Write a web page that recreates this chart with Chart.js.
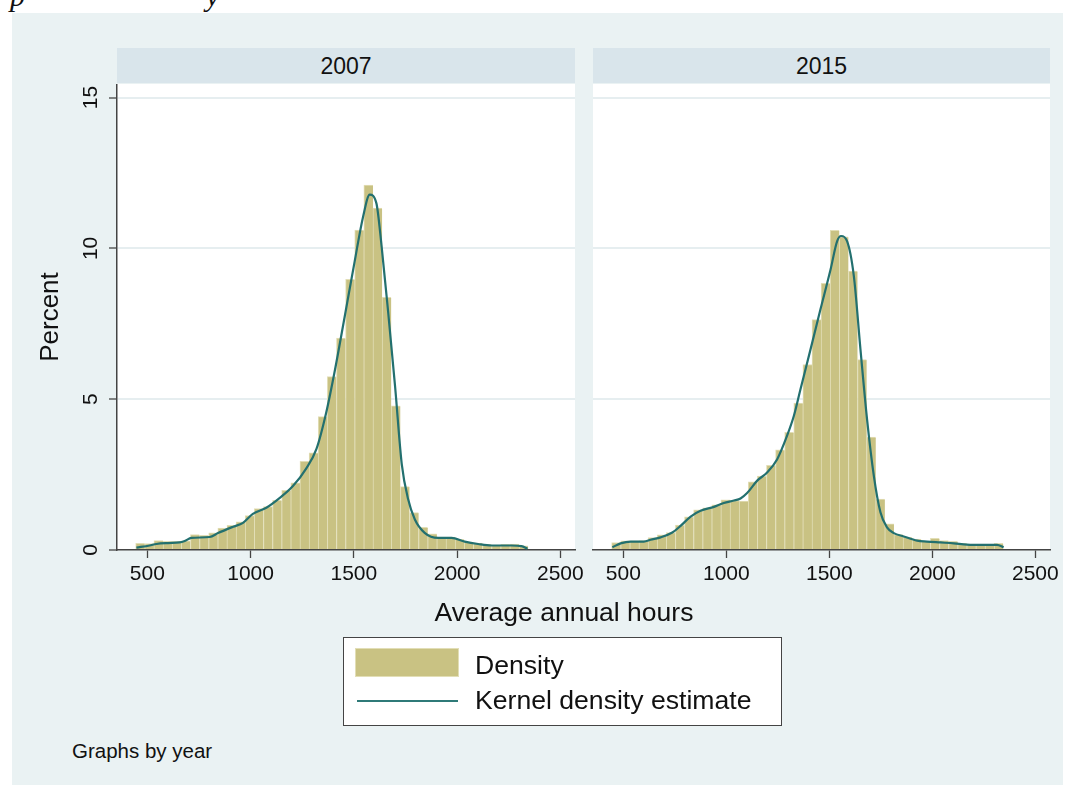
<!DOCTYPE html>
<html>
<head>
<meta charset="utf-8">
<script src="https://cdn.jsdelivr.net/npm/chart.js@4.4.1/dist/chart.umd.min.js"></script>
<style>
  html, body { margin: 0; padding: 0; background: #fff; width: 1076px; height: 787px; overflow: hidden;
               font-family: 'Liberation Sans', Arial, Helvetica, sans-serif; color: #111; }
  .cut { position: absolute; top: -21px; font-family: 'Liberation Serif', serif; font-style: italic; font-size: 30px; line-height: 34px; }
  #frame { position: absolute; left: 12px; top: 13px; width: 1051px; height: 772px; background: #eaf2f3; }
  .strip { position: absolute; top: 48px; height: 35px; background: #d9e5eb; font-size: 23px; line-height: 36px; text-align: center; }
  canvas { position: absolute; }
  #xtitle { position: absolute; left: 364px; width: 400px; top: 597px; text-align: center; font-size: 26.5px; line-height: 30px; }
  #legend { position: absolute; left: 343px; top: 637px; width: 437px; height: 87px; background: #fff; border: 1.5px solid #444; }
  .swatch { position: absolute; left: 11px; top: 10px; width: 102px; height: 27px; background: rgb(201,194,131); border: 1px solid rgb(226,222,182); }
  .lineKey { position: absolute; left: 13px; top: 61.5px; width: 101px; height: 2px; background: #2f7a78; }
  .ltext { position: absolute; left: 131px; font-size: 26.6px; line-height: 30px; white-space: nowrap; }
  #note { position: absolute; left: 72px; top: 739px; font-size: 20.5px; line-height: 24px; }
</style>
</head>
<body>
<div class="cut" style="left:10px">p</div>
<div class="cut" style="left:206px">y</div>
<div id="frame"></div>
<div class="strip" id="strip0" style="left:117px; width:458px;"></div>
<div class="strip" id="strip1" style="left:593px; width:457px;"></div>
<canvas id="panel2007" width="575" height="516" style="left:12px; top:84px;"></canvas>
<canvas id="panel2015" width="476" height="516" style="left:587px; top:84px;"></canvas>
<div id="xtitle">Average annual hours</div>
<div id="legend">
  <div class="swatch"></div>
  <div class="ltext" style="top:12px;">Density</div>
  <div class="lineKey"></div>
  <div class="ltext" style="top:47px;">Kernel density estimate</div>
</div>
<div id="note">Graphs by year</div>

<script>
// Panel labels and axis ticks
const panelTitles = ['2007', '2015'];
const xTickValues = [500, 1000, 1500, 2000, 2500];
const yTickValues = [0, 5, 10, 15];
const xMin = 353, xMax = 2571;
const yMax = 15.45;

// Histogram bins (hours): first bin edge and bin width
const binStart = 443.5;
const binWidth = 44.2;

// Percent of observations in each bin
const pct2007 = [0.22, 0.21, 0.31, 0.29, 0.29, 0.30, 0.51, 0.49, 0.57, 0.73,
                 0.82, 0.93, 1.14, 1.37, 1.44, 1.65, 1.98, 2.23, 2.94, 3.22,
                 4.42, 5.75, 7.03, 8.97, 10.61, 12.10, 11.34, 8.38, 4.78, 2.10,
                 1.24, 0.75, 0.54, 0.43, 0.43, 0.35, 0.26, 0.23, 0.19, 0.16,
                 0.19, 0.20, 0.14];
const pct2015 = [0.25, 0.30, 0.30, 0.31, 0.41, 0.50, 0.58, 0.83, 1.10, 1.33,
                 1.40, 1.50, 1.66, 1.64, 1.62, 2.26, 2.45, 2.81, 3.32, 3.90,
                 4.87, 6.15, 7.64, 8.84, 10.60, 10.38, 9.25, 6.31, 3.74, 1.69,
                 0.87, 0.51, 0.42, 0.36, 0.29, 0.39, 0.31, 0.29, 0.22, 0.20,
                 0.20, 0.20, 0.22];

// Kernel density estimate, scaled to percent per bin
const kdeHours2007 = [447, 511, 544, 600, 656, 681, 713, 802, 842, 915, 963, 1011, 1076, 1140, 1205, 1269,
                      1319, 1366, 1408, 1456, 1504, 1545, 1577, 1609, 1634, 1666, 1700, 1732, 1763, 1795,
                      1843, 1908, 1973, 2037, 2102, 2166, 2263, 2312, 2341];
const kdeValue2007 = [0.08, 0.15, 0.20, 0.23, 0.25, 0.30, 0.40, 0.43, 0.56, 0.77, 0.90, 1.20, 1.40, 1.72, 2.12, 2.70,
                      3.35, 4.55, 5.95, 7.75, 9.57, 11.06, 11.78, 11.50, 10.10, 7.90, 5.40, 2.85, 1.68, 1.02,
                      0.57, 0.40, 0.40, 0.28, 0.20, 0.15, 0.15, 0.13, 0.04];
const kdeHours2015 = [447, 487, 536, 600, 633, 681, 738, 778, 827, 875, 940, 988, 1037, 1069, 1101, 1150,
                      1198, 1247, 1295, 1328, 1360, 1409, 1457, 1506, 1538, 1557, 1586, 1619, 1651, 1683,
                      1716, 1748, 1780, 1813, 1861, 1926, 1974, 2039, 2104, 2168, 2249, 2314, 2346];
const kdeValue2015 = [0.09, 0.22, 0.28, 0.28, 0.34, 0.42, 0.58, 0.80, 1.11, 1.30, 1.43, 1.56, 1.64, 1.71, 1.89, 2.30,
                      2.57, 3.01, 3.79, 4.45, 5.33, 6.66, 7.98, 9.30, 10.24, 10.41, 10.24, 9.08, 6.66, 4.34,
                      2.46, 1.25, 0.75, 0.56, 0.45, 0.31, 0.28, 0.25, 0.22, 0.18, 0.17, 0.17, 0.09];

const barFill = 'rgb(201,194,131)';
const barEdge = 'rgb(226,222,182)';
const kdeColor = '#23706f';
const axisColor = '#444';
const gridColor = '#e6eef0';

Chart.defaults.font.family = "'Liberation Sans', Arial, Helvetica, sans-serif";
Chart.defaults.color = '#111';

document.getElementById('strip0').textContent = panelTitles[0];
document.getElementById('strip1').textContent = panelTitles[1];

// White plot region behind the bars
const plotBackground = {
  id: 'plotBackground',
  beforeDraw(chart) {
    const { ctx, chartArea: a } = chart;
    ctx.save();
    ctx.fillStyle = '#fff';
    ctx.fillRect(a.left, a.top, a.right - a.left, a.bottom - a.top);
    ctx.restore();
  }
};

function setTicks(values) {
  return scale => { scale.ticks = values.map(v => ({ value: v })); };
}

function makePanel(canvasId, pct, kdeHours, kdeValue, withYAxis, padding) {
  const bars = pct.map((v, i) => ({ x: binStart + binWidth * (i + 0.5), y: v }));
  const kde = kdeHours.map((h, i) => ({ x: h, y: kdeValue[i] }));

  const yScale = withYAxis ? {
    type: 'linear', min: 0, max: yMax,
    grid: {
      color: c => (c.tick && c.tick.value === 0) ? 'rgba(0,0,0,0)' : gridColor,
      lineWidth: 2, tickLength: 8, tickColor: axisColor, tickWidth: 1.3
    },
    border: { display: true, color: axisColor, width: 1.5 },
    ticks: { font: { size: 21 }, color: '#111', padding: 6, minRotation: 90, maxRotation: 90,
             crossAlign: 'center', callback: v => String(v) },
    title: { display: true, text: 'Percent', font: { size: 26 }, color: '#111', padding: { top: 23, bottom: 0 } },
    afterBuildTicks: setTicks(yTickValues),
    afterFit: s => { s.width = 105; s.paddingTop = 0; s.paddingBottom = 0; }
  } : {
    type: 'linear', min: 0, max: yMax,
    grid: {
      color: c => (c.tick && c.tick.value === 0) ? 'rgba(0,0,0,0)' : gridColor,
      lineWidth: 2, drawTicks: false
    },
    border: { display: false },
    ticks: { display: false },
    afterBuildTicks: setTicks(yTickValues),
    afterFit: s => { s.width = 0; s.paddingTop = 0; s.paddingBottom = 0; }
  };

  return new Chart(document.getElementById(canvasId), {
    type: 'bar',
    data: {
      datasets: [
        {
          type: 'line', label: 'Kernel density estimate', data: kde, order: 0,
          borderColor: kdeColor, borderWidth: 2.2, pointRadius: 0, fill: false,
          cubicInterpolationMode: 'monotone'
        },
        {
          type: 'bar', label: 'Density', data: bars, order: 1,
          backgroundColor: barFill, borderColor: barEdge,
          borderWidth: { left: 1, right: 0, top: 1, bottom: 0 },
          barPercentage: 1, categoryPercentage: 1
        }
      ]
    },
    options: {
      responsive: false, animation: false, devicePixelRatio: 1,
      layout: { padding: padding },
      plugins: { legend: { display: false }, tooltip: { enabled: false } },
      scales: {
        x: {
          type: 'linear', min: xMin, max: xMax, offset: false,
          grid: { display: true, drawOnChartArea: false, offset: false, tickLength: 8,
                  tickColor: axisColor, tickWidth: 1.3 },
          border: { display: true, color: axisColor, width: 1.5 },
          ticks: { font: { size: 21 }, color: '#111', padding: 4, maxRotation: 0, autoSkip: false,
                   callback: v => String(v) },
          afterBuildTicks: setTicks(xTickValues),
          afterFit: s => { s.height = 50; s.paddingLeft = 0; s.paddingRight = 0; }
        },
        y: yScale
      }
    },
    plugins: [plotBackground]
  });
}

makePanel('panel2007', pct2007, kdeHours2007, kdeValue2007, true, { left: 0, right: 12, top: 0, bottom: 0 });
makePanel('panel2015', pct2015, kdeHours2015, kdeValue2015, false, { left: 6, right: 13, top: 0, bottom: 0 });
</script>
</body>
</html>
